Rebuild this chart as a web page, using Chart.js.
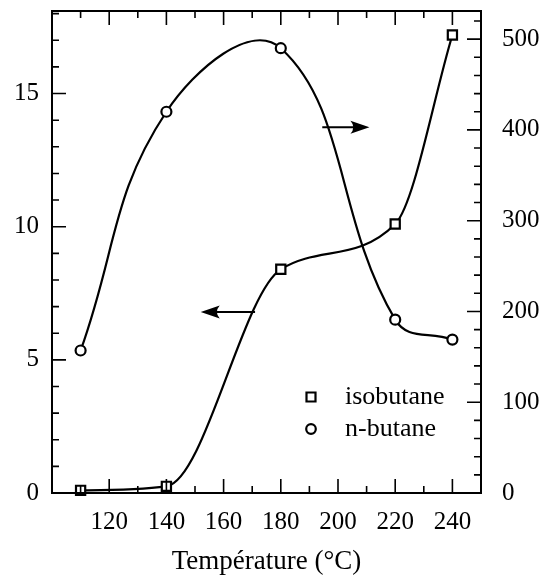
<!DOCTYPE html>
<html>
<head>
<meta charset="utf-8">
<script src="https://cdn.jsdelivr.net/npm/chart.js@4"></script>
<style>
  html, body { margin: 0; padding: 0; background: #fff; }
  #wrap { width: 544px; height: 578px; }
</style>
</head>
<body>
<div id="wrap"><canvas id="c" width="544" height="578"></canvas></div>
<script>
// ---- data ----
const temperatures = [110, 140, 180, 220, 240];          // °C
const isobutane    = [0.1, 0.25, 8.4, 10.1, 17.2];        // left axis
const nbutane      = [157, 420, 490, 191, 169];           // right axis
const xTickLabels  = [120, 140, 160, 180, 200, 220, 240];
const leftTicks    = [0, 5, 10, 15];
const rightTicks   = [0, 100, 200, 300, 400, 500];
const seriesNames  = ['isobutane', 'n-butane'];
const axisTitle    = 'Température (°C)';
// arrows: [xStart, xEnd, yValue]
const arrowIso   = [171, 152, 6.8];   // points to left axis
const arrowNbut  = [194.5, 211, 403]; // points to right axis

const SERIF = '"Liberation Serif", "Times New Roman", serif';

function zeroPad(s) { s.paddingTop = 0; s.paddingBottom = 0; s.paddingLeft = 0; s.paddingRight = 0; }

const framePlugin = {
  id: 'frame',
  afterDatasetsDraw(chart) {
    const ctx = chart.ctx;
    const a = chart.chartArea;
    const xs = chart.scales.x, yl = chart.scales.y, yr = chart.scales.y2;
    ctx.save();
    ctx.strokeStyle = '#000';
    ctx.fillStyle = '#000';
    // frame
    ctx.lineWidth = 2;
    ctx.strokeRect(a.left, a.top, a.right - a.left, a.bottom - a.top);
    ctx.lineWidth = 1.6;
    ctx.beginPath();
    // left ticks
    for (let v = 0; v <= yl.max + 1e-9; v += 1) {
      const p = yl.getPixelForValue(v), len = v % 5 === 0 ? 14 : 7;
      ctx.moveTo(a.left, p); ctx.lineTo(a.left + len, p);
    }
    // right ticks
    for (let v = 0; v <= yr.max + 1e-9; v += 20) {
      const p = yr.getPixelForValue(v), len = v % 100 === 0 ? 14 : 7;
      ctx.moveTo(a.right, p); ctx.lineTo(a.right - len, p);
    }
    // bottom & top ticks
    for (let v = xs.min; v <= xs.max + 1e-9; v += 10) {
      const p = xs.getPixelForValue(v), len = v % 20 === 0 ? 14 : 7;
      ctx.moveTo(p, a.bottom); ctx.lineTo(p, a.bottom - len);
      ctx.moveTo(p, a.top); ctx.lineTo(p, a.top + len);
    }
    ctx.stroke();

    // arrows
    function arrow(x1, x2, y) {
      const dir = Math.sign(x2 - x1);
      const headLen = 19, headH = 6.5;
      ctx.lineWidth = 2;
      ctx.beginPath();
      ctx.moveTo(x1, y); ctx.lineTo(x2 - dir * headLen * 0.6, y);
      ctx.stroke();
      ctx.beginPath();
      ctx.moveTo(x2, y);
      ctx.lineTo(x2 - dir * headLen, y - headH);
      ctx.quadraticCurveTo(x2 - dir * headLen * 0.7, y, x2 - dir * headLen, y + headH);
      ctx.closePath();
      ctx.fill();
    }
    arrow(xs.getPixelForValue(arrowIso[0]), xs.getPixelForValue(arrowIso[1]), yl.getPixelForValue(arrowIso[2]));
    arrow(xs.getPixelForValue(arrowNbut[0]), xs.getPixelForValue(arrowNbut[1]), yr.getPixelForValue(arrowNbut[2]));

    // legend (inside plot, lower right)
    const lx = a.left + 259, ly0 = a.top + 386, gap = 32;
    ctx.font = '26px ' + SERIF;
    ctx.textBaseline = 'middle';
    ctx.textAlign = 'left';
    chart.data.datasets.forEach((ds, i) => {
      const y = ly0 + i * gap;
      ctx.lineWidth = 2.2;
      ctx.strokeStyle = '#000';
      ctx.fillStyle = '#fff';
      if (ds.pointStyle === 'rect') {
        ctx.beginPath(); ctx.rect(lx - 4.5, y - 4.5, 9, 9); ctx.fill(); ctx.stroke();
      } else {
        ctx.beginPath(); ctx.arc(lx, y, 4.8, 0, Math.PI * 2); ctx.fill(); ctx.stroke();
      }
      ctx.fillStyle = '#000';
      ctx.fillText(ds.label, lx + 34, y);
    });
    ctx.restore();
  }
};

new Chart(document.getElementById('c'), {
  type: 'line',
  data: {
    datasets: [
      {
        label: seriesNames[0],
        data: temperatures.map((t, i) => ({ x: t, y: isobutane[i] })),
        yAxisID: 'y',
        borderColor: '#000',
        borderWidth: 2.2,
        backgroundColor: '#fff',
        pointStyle: 'rect',
        pointRadius: 6.5,
        pointBorderWidth: 2.2,
        pointBackgroundColor: '#fff',
        pointBorderColor: '#000',
        cubicInterpolationMode: 'monotone',
        clip: false
      },
      {
        label: seriesNames[1],
        data: temperatures.map((t, i) => ({ x: t, y: nbutane[i] })),
        yAxisID: 'y2',
        borderColor: '#000',
        borderWidth: 2.2,
        backgroundColor: '#fff',
        pointStyle: 'circle',
        pointRadius: 5,
        pointBorderWidth: 2.2,
        pointBackgroundColor: '#fff',
        pointBorderColor: '#000',
        tension: 0.42,
        clip: false
      }
    ]
  },
  options: {
    responsive: false,
    animation: false,
    devicePixelRatio: 1,
    layout: { autoPadding: false, padding: { top: 11, left: 0, right: 0, bottom: 0 } },
    plugins: { legend: { display: false }, tooltip: { enabled: false } },
    scales: {
      x: {
        type: 'linear', position: 'bottom', min: 100, max: 250,
        grid: { display: false, drawTicks: false, tickLength: 0 },
        border: { display: false },
        afterBuildTicks(s) { s.ticks = xTickLabels.map(v => ({ value: v })); },
        ticks: { font: { family: SERIF, size: 25 }, color: '#000', padding: 14, maxRotation: 0, autoSkip: false },
        title: { display: true, text: axisTitle, color: '#000', font: { family: SERIF, size: 27 }, padding: { top: 12, bottom: 0 } },
        afterFit(s) { s.height = 85; zeroPad(s); }
      },
      y: {
        type: 'linear', position: 'left', min: 0, max: 18.1,
        grid: { display: false, drawTicks: false, tickLength: 0 },
        border: { display: false },
        afterBuildTicks(s) { s.ticks = leftTicks.map(v => ({ value: v })); },
        ticks: { font: { family: SERIF, size: 25 }, color: '#000', padding: 13 },
        afterFit(s) { s.width = 52; zeroPad(s); }
      },
      y2: {
        type: 'linear', position: 'right', min: 0, max: 531,
        grid: { display: false, drawTicks: false, tickLength: 0 },
        border: { display: false },
        afterBuildTicks(s) { s.ticks = rightTicks.map(v => ({ value: v })); },
        ticks: { font: { family: SERIF, size: 25 }, color: '#000', padding: 21 },
        afterFit(s) { s.width = 63; zeroPad(s); }
      }
    }
  },
  plugins: [framePlugin]
});
</script>
</body>
</html>
